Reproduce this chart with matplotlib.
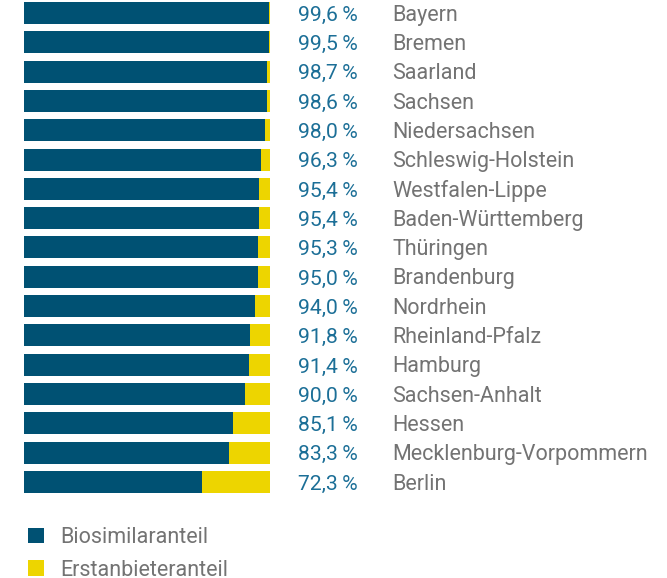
import matplotlib
matplotlib.use("Agg")
import matplotlib.pyplot as plt
from matplotlib.patches import Patch

regions = ["Bayern", "Bremen", "Saarland", "Sachsen", "Niedersachsen",
           "Schleswig-Holstein", "Westfalen-Lippe", "Baden-Württemberg",
           "Thüringen", "Brandenburg", "Nordrhein", "Rheinland-Pfalz",
           "Hamburg", "Sachsen-Anhalt", "Hessen", "Mecklenburg-Vorpommern", "Berlin"]
biosimilar = [99.6, 99.5, 98.7, 98.6, 98.0, 96.3, 95.4, 95.4, 95.3, 95.0,
              94.0, 91.8, 91.4, 90.0, 85.1, 83.3, 72.3]
erstanbieter = [100 - v for v in biosimilar]
legend_labels = ["Biosimilaranteil", "Erstanbieteranteil"]

BLUE = "#005173"
YELLOW = "#EDD500"
PCT = "#1C6F97"
GRAY = "#737373"
FONT = ["Roboto", "DejaVu Sans"]

W, H = 667, 578
fig = plt.figure(figsize=(W / 100, H / 100), dpi=100)
ax = fig.add_axes([24 / W, 0, 246 / W, 1])
ax.set_xlim(0, 100)
row = 29.31
ax.set_ylim((H - 13) / row, -13 / row)
ax.axis("off")

ys = list(range(len(regions)))
ax.barh(ys, biosimilar, height=0.75, color=BLUE, linewidth=0)
ax.barh(ys, erstanbieter, left=biosimilar, height=0.75, color=YELLOW, linewidth=0)

for y, v, name in zip(ys, biosimilar, regions):
    ax.text(135.8, y + 0.263, f"{v:.1f}".replace(".", ",") + "\u2009%", ha="right", va="baseline",
            color=PCT, fontsize=15.2, family=FONT, clip_on=False)
    ax.text(149.6, y + 0.263, name, ha="left", va="baseline", color=GRAY,
            fontsize=15.5, family=FONT, clip_on=False)

handles = [Patch(facecolor=BLUE, edgecolor="none"), Patch(facecolor=YELLOW, edgecolor="none")]
fs = 15.5
px = fs * 100 / 72
leg = fig.legend(handles, legend_labels, loc="upper left",
                 bbox_to_anchor=(28 / W, 1 - 527 / H), frameon=False,
                 prop={"family": FONT, "size": fs},
                 handlelength=16 / px, handleheight=16 / px, handletextpad=16 / px,
                 labelspacing=0.55, borderpad=0, borderaxespad=0)
for t in leg.get_texts():
    t.set_color(GRAY)

fig.savefig("out.png", dpi=100)
